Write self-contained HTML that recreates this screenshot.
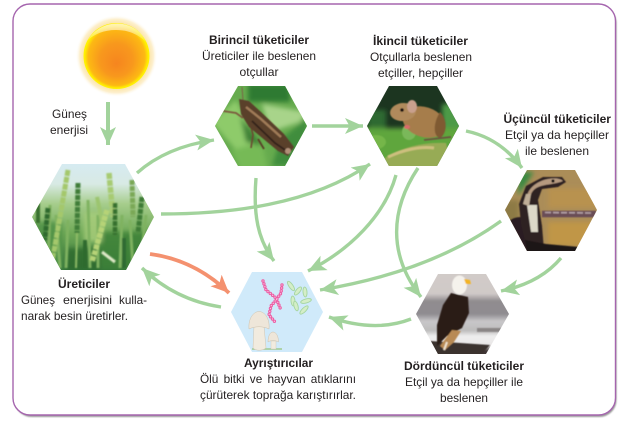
<!DOCTYPE html>
<html><head><meta charset="utf-8"><style>
html,body{margin:0;padding:0;background:#fff;width:623px;height:423px;overflow:hidden}
svg{display:block}
text{font-family:"Liberation Sans",sans-serif;font-size:12px;fill:#231f20}
.b{font-weight:bold}
.a{fill:none;stroke:#a2d39c;stroke-width:3.4;marker-end:url(#h)}
</style></head><body>
<svg width="623" height="423" viewBox="0 0 623 423" xmlns="http://www.w3.org/2000/svg">
<defs>
<marker id="h" markerUnits="userSpaceOnUse" markerWidth="20" markerHeight="18" refX="18" refY="8" orient="auto"><path d="M18 8L0 0L4.500 8L0 16Z" fill="#a2d39c"/></marker>
<marker id="o" markerUnits="userSpaceOnUse" markerWidth="20" markerHeight="18" refX="18" refY="8" orient="auto"><path d="M18 8L0 0L4.500 8L0 16Z" fill="#f4916f"/></marker>
<radialGradient id="sun" cx=".5" cy=".5" r=".5" fx=".5" fy=".62"><stop offset="0" stop-color="#f6851f"/><stop offset=".5" stop-color="#f8981d"/><stop offset=".86" stop-color="#fdb913"/><stop offset=".97" stop-color="#fff200"/><stop offset="1" stop-color="#fff200"/></radialGradient>
<radialGradient id="glow"><stop offset=".78" stop-color="#fce3a4"/><stop offset=".9" stop-color="#fdf0cf"/><stop offset="1" stop-color="#fff" stop-opacity="0"/></radialGradient>
<linearGradient id="hl" x1="0" y1="0" x2="0" y2="1"><stop offset="0" stop-color="#fff3c0" stop-opacity=".95"/><stop offset="1" stop-color="#fff" stop-opacity="0"/></linearGradient>
<linearGradient id="wh" x1="0" y1="0" x2="0" y2="1"><stop offset="0" stop-color="#d6ebf3"/><stop offset=".2" stop-color="#d8eae4"/><stop offset=".38" stop-color="#a6cd8c"/><stop offset=".65" stop-color="#6ea856"/><stop offset="1" stop-color="#2f7038"/></linearGradient>
<linearGradient id="eg" x1="0" y1="0" x2="0" y2="1"><stop offset="0" stop-color="#d2cbc8"/><stop offset=".28" stop-color="#cfc9c7"/><stop offset=".36" stop-color="#908c8f"/><stop offset=".5" stop-color="#8f8c90"/><stop offset=".58" stop-color="#c8c7c9"/><stop offset=".68" stop-color="#bdbcbc"/><stop offset=".74" stop-color="#eeeeee"/><stop offset=".84" stop-color="#e8e6e6"/><stop offset=".9" stop-color="#3c3432"/><stop offset="1" stop-color="#4a3f3a"/></linearGradient>
<clipPath id="c1"><polygon points="62,164 125,164 154,217 126,270 61,270 32,217"/></clipPath>
<clipPath id="c2"><polygon points="238,86 285,86 307,126 285,166 238,166 215,126"/></clipPath>
<clipPath id="c3"><polygon points="389,86 437,86 459,126 437,166 389,166 367,126"/></clipPath>
<clipPath id="c4"><polygon points="527,170 575,170 597,210 575,251 527,251 505,210"/></clipPath>
<clipPath id="c5"><polygon points="438,274 486,274 509,314 486,354 438,354 416,314"/></clipPath>
<filter id="b0" x="-30%" y="-30%" width="160%" height="160%"><feGaussianBlur stdDeviation="0.45"/></filter>
<filter id="b1" x="-30%" y="-30%" width="160%" height="160%"><feGaussianBlur stdDeviation="0.8"/></filter>
<filter id="b2" x="-30%" y="-30%" width="160%" height="160%"><feGaussianBlur stdDeviation="2.5"/></filter>
</defs>

<!-- frame -->
<rect x="14.5" y="6" width="602" height="411" rx="17" fill="#7f7f7f" opacity=".8" filter="url(#b1)"/>
<rect x="13" y="4" width="602.500" height="411" rx="17" fill="#fff" stroke="#a565ae" stroke-width="1.4"/>

<!-- sun -->
<circle cx="116.500" cy="56" r="41" fill="url(#glow)"/>
<circle cx="116.500" cy="56" r="33" fill="url(#sun)"/>
<path d="M87 41C94 29 106 23.500 117 23.500C130 23.500 142 31 147 43C137 33 127 30 116 30C104 30 94 34 87 41Z" fill="url(#hl)"/>

<!-- wheat -->
<g clip-path="url(#c1)">
<rect x="30" y="162" width="126" height="110" fill="url(#wh)"/>
<g filter="url(#b2)" opacity=".85"><rect x="34" y="222" width="28" height="50" fill="#4f9147"/><rect x="100" y="232" width="50" height="38" fill="#3d8039"/><rect x="66" y="248" width="34" height="22" fill="#2d6a2e"/><rect x="84" y="212" width="18" height="30" fill="#a6cc7a"/></g>
<g filter="url(#b1)" fill="none">
<path d="M50 205L48 268M56 215L60 268M68 220L66 268M88 200L90 268M98 215L98 268M122 215L120 268M130 220L133 268M146 215L142 250" stroke="#7fb260" stroke-width="3"/>
<path d="M68 170L60 217L52 262" stroke="#a4c86c" stroke-width="5" stroke-dasharray="6 1"/>
<path d="M78 183L77 233" stroke="#3f7d38" stroke-width="5" stroke-dasharray="5 1"/>
<path d="M77 233L76 268" stroke="#8fbc66" stroke-width="2"/>
<path d="M48 208L45 240" stroke="#2f6a2d" stroke-width="5" stroke-dasharray="5 1"/>
<path d="M38 203L38 223" stroke="#37702f" stroke-width="4"/>
<path d="M109 173L113 217" stroke="#a7cb72" stroke-width="5.500" stroke-dasharray="6 1"/>
<path d="M132 180L133 217" stroke="#7aa857" stroke-width="5" stroke-dasharray="5 1"/>
<path d="M142 197L138 233" stroke="#3c7a36" stroke-width="5" stroke-dasharray="5 1"/>
<path d="M115 203L115 235" stroke="#35702f" stroke-width="4.500" stroke-dasharray="5 1"/>
<path d="M97 197L102 222" stroke="#9cc56f" stroke-width="4"/>
<path d="M107 210L92 262" stroke="#b6d377" stroke-width="5.500" stroke-dasharray="5 1"/>
<path d="M124 238L124 268" stroke="#2f6a33" stroke-width="4"/>
<path d="M102 252L115 262" stroke="#dfe9c8" stroke-width="3"/>
<path d="M85 240L85 268" stroke="#2f6a2e" stroke-width="4"/>
</g>
</g>

<!-- grasshopper -->
<g clip-path="url(#c2)">
<rect x="213" y="84" width="96" height="84" fill="#66ab4e"/>
<g filter="url(#b2)">
<path d="M212 122L236 100L246 120L256 150L238 152Z" fill="#8ecb6a"/>
<path d="M262 104L306 112L300 122L270 132Z" fill="#a8d48a"/>
<path d="M232 150L262 142L268 170L240 170Z" fill="#76ba56"/>
<rect x="248" y="84" width="42" height="18" fill="#2f7a33"/>
<path d="M280 140L307 118V150L292 166H272Z" fill="#3f8d3c"/>
<path d="M240 116L262 146L246 142Z" fill="#2e6f2a" opacity=".8"/>
</g>
<g filter="url(#b0)">
<path d="M242 87L243 100" stroke="#7a6145" stroke-width="1" fill="none"/>
<path d="M223 111L236 113L243 118" stroke="#7c5a3c" stroke-width="1.800" fill="none"/>
<path d="M251 127L253 135L251 148" stroke="#6c4a30" stroke-width="1.600" fill="none"/>
<path d="M258 139L264 149" stroke="#5a3f28" stroke-width="1.800" fill="none"/>
<polygon points="239,99 249,101 261,112 284,134 294,147 288,156 278,151 249,127 241,114" fill="#5a3f29"/>
<path d="M246 107L261 119L281 137" stroke="#a07c58" stroke-width="2.400" fill="none"/>
<path d="M252 121L275 143L288 152" stroke="#33241a" stroke-width="1.800" fill="none"/>
<circle cx="288" cy="151" r="3" fill="#b09078"/>
</g>
</g>

<!-- mouse -->
<g clip-path="url(#c3)">
<rect x="365" y="84" width="96" height="84" fill="#1c3520"/>
<g filter="url(#b2)">
<rect x="442" y="104" width="20" height="36" fill="#4d9a47"/>
<rect x="365" y="128" width="96" height="40" fill="#5fa63e"/>
<rect x="368" y="110" width="18" height="18" fill="#2f6a30"/>
</g>
<g filter="url(#b0)">
<path d="M385 158C398 149 420 142 446 143L452 168H385Z" fill="#97ab55"/>
<path d="M388 157C403 150 420 146 434 148" stroke="#cdbf7e" stroke-width="3" fill="none"/>
<ellipse cx="376" cy="142" rx="10" ry="7" fill="#74b64a"/>
<ellipse cx="409" cy="132" rx="7" ry="8" fill="#7ab85a"/>
<ellipse cx="424" cy="122" rx="22" ry="15" transform="rotate(18 424 122)" fill="#a67d4c"/>
<path d="M440 112C448 120 447 134 440 138C434 137 432 125 440 112Z" fill="#7f5a33"/>
<ellipse cx="403" cy="112" rx="13" ry="9" transform="rotate(-6 403 112)" fill="#b08a5c"/>
<ellipse cx="412" cy="106.500" rx="5" ry="6.500" fill="#c9a08d"/>
<circle cx="402" cy="110" r="1.800" fill="#120c07"/>
<ellipse cx="407" cy="127" rx="3" ry="2" fill="#d86b6b"/>
<path d="M424 140L451 137" stroke="#6a5540" stroke-width="1.800"/>
</g>
</g>

<!-- snake -->
<g clip-path="url(#c4)">
<rect x="503" y="168" width="96" height="85" fill="#ab8d58"/>
<g filter="url(#b2)">
<rect x="548" y="188" width="50" height="20" fill="#b8924f"/>
<rect x="548" y="222" width="50" height="24" fill="#c09646"/>
<path d="M518 172H534L518 196Z" fill="#3a8a42"/>
<rect x="503" y="200" width="16" height="28" fill="#8d7a45"/>
</g>
<g filter="url(#b0)">
<path d="M542 214L596 214" stroke="#6b4d57" stroke-width="6.500" fill="none"/>
<path d="M545 212.500L592 213" stroke="#b3a0a6" stroke-width="1.600" fill="none" stroke-dasharray="6 2"/>
<path d="M505 224C513 217 519 216 524 218L530 252H518Z" fill="#2a1e22"/>
<polygon points="519,204 526,186 543,177 562,177 566,182 558,187 542,189 538,200 542,226 544,250 527,250 521,224" fill="#2e2122"/>
<path d="M527 196C529 187 538 181 548 179C554 178 560 178 563 181C556 184 548 184 541 186C534 188 531 192 530 198Z" fill="#b69a80"/>
<path d="M527 205L537 205L538 232L531 232Z" fill="#dcd8c8"/>
<path d="M523 204L526 194L531 194L529 206Z" fill="#bfae97"/>
<circle cx="553" cy="181" r="1.600" fill="#111"/>
<path d="M525 240L546 244L590 248L585 256H528Z" fill="#1d1517"/>
</g>
</g>

<!-- eagle -->
<g clip-path="url(#c5)">
<g filter="url(#b1)"><rect x="410" y="268" width="105" height="92" fill="url(#eg)"/></g>
<g filter="url(#b0)">
<path d="M430 341L490 345L480 356H435Z" fill="#3a302d"/>
<polygon points="451,293 468,297 469,313 462,328 447,336 437,346 437,325 443,305" fill="#2a1c16"/>
<ellipse cx="459.500" cy="285" rx="7.500" ry="9.500" fill="#f5f2ec"/>
<polygon points="464,279 470,280 471,284 466,284" fill="#f3b423"/>
<path d="M440 346L452 330L461 331L454 342L445 350Z" fill="#b88a54"/>
<path d="M447 342L444 350" stroke="#eee2cf" stroke-width="2"/>
<rect x="477" y="328" width="30" height="4" fill="#55504e" opacity=".5"/>
</g>
</g>

<!-- decomposers -->
<polygon points="252,272 302,272 323,312 302,352 252,352 231,312" fill="#d0eafa"/>
<g fill="#d4eec7" stroke="#a5d5a0" stroke-width=".9">
<ellipse cx="291" cy="286" rx="5.500" ry="2" transform="rotate(55 291 286)"/>
<ellipse cx="298" cy="291" rx="5" ry="2" transform="rotate(-50 298 291)"/>
<ellipse cx="305" cy="292" rx="5" ry="2" transform="rotate(85 305 292)"/>
<ellipse cx="293" cy="301" rx="5" ry="2" transform="rotate(85 293 301)"/>
<ellipse cx="296" cy="306" rx="5" ry="2" transform="rotate(75 296 306)"/>
<ellipse cx="306" cy="301" rx="5.500" ry="2" transform="rotate(-15 306 301)"/>
<ellipse cx="304" cy="310" rx="5.500" ry="2" transform="rotate(-45 304 310)"/>
</g>
<g fill="none" stroke-linecap="round">
<path d="M263 281L266 290L276 298L281 310" stroke="#ec5fa5" stroke-width="3.400" stroke-dasharray="0 3"/>
<path d="M282 285L281 293L276 300L271 306L269 315L275 322" stroke="#ec5fa5" stroke-width="3.400" stroke-dasharray="0 3"/>
<path d="M263 281L266 290L276 298L281 310" stroke="#f9c8e0" stroke-width="1.300" stroke-dasharray="0 3"/>
<path d="M282 285L281 293L276 300L271 306L269 315L275 322" stroke="#f9c8e0" stroke-width="1.300" stroke-dasharray="0 3"/>
</g>
<path d="M252 349H282" stroke="#9fc98e" stroke-width="1.500"/>
<path d="M254 326H264L266 348C262 351 256 351 253 348Z" fill="#f1ebdf" stroke="#cfc5b3" stroke-width=".5"/>
<path d="M249 329C248 318 254 311.500 259 311.500C265 311.500 270 319 269 329C263 326 255 326 249 329Z" fill="#eee6d9" stroke="#cdc2ae" stroke-width=".5"/>
<path d="M271 341H276L276 349H271Z" fill="#f1ebdf" stroke="#cfc5b3" stroke-width=".4"/>
<path d="M268 342C268 336 270 332 273 332C276 332 278.500 336 278.500 342C275 340 271 340 268 342Z" fill="#eee6d9" stroke="#cdc2ae" stroke-width=".5"/>

<!-- arrows -->
<path d="M108 102V145" class="a" style="stroke-width:4"/>
<path d="M137 173Q166 147 214 140" class="a"/>
<path d="M312 126H363" class="a"/>
<path d="M161 214C230 214 310 205 370 164" class="a"/>
<path d="M256 178C253 215 258 240 274 261" class="a"/>
<path d="M396 175C385 215 350 250 308 271" class="a"/>
<path d="M418 168C390 210 388 255 421 297" class="a"/>
<path d="M466 131Q500 138 522 168" class="a"/>
<path d="M501 221Q430 272 320 290" class="a"/>
<path d="M561 258Q540 283 501 291" class="a"/>
<path d="M411 319Q375 333 329 317" class="a"/>
<path d="M221 307Q175 300 142 268" class="a"/>
<path d="M150 254Q195 260 229 293" fill="none" stroke="#f4916f" stroke-width="3.800" marker-end="url(#o)"/>

<!-- labels -->
<text x="52" y="118" textLength="35" lengthAdjust="spacingAndGlyphs">Güneş</text>
<text x="50" y="134" textLength="38" lengthAdjust="spacingAndGlyphs">enerjisi</text>
<text class="b" x="209" y="44" textLength="100" lengthAdjust="spacingAndGlyphs">Birincil tüketiciler</text>
<text x="202" y="60" textLength="114" lengthAdjust="spacingAndGlyphs">Üreticiler ile beslenen</text>
<text x="239.500" y="76" textLength="39" lengthAdjust="spacingAndGlyphs">otçullar</text>
<text class="b" x="373" y="45" textLength="95" lengthAdjust="spacingAndGlyphs">İkincil tüketiciler</text>
<text x="370" y="61" textLength="102" lengthAdjust="spacingAndGlyphs">Otçullarla beslenen</text>
<text x="378" y="77" textLength="85" lengthAdjust="spacingAndGlyphs">etçiller, hepçiller</text>
<text class="b" x="503.500" y="123" textLength="107.500" lengthAdjust="spacingAndGlyphs">Üçüncül tüketiciler</text>
<text x="505" y="139" textLength="104" lengthAdjust="spacingAndGlyphs">Etçil ya da hepçiller</text>
<text x="525" y="155" textLength="64" lengthAdjust="spacingAndGlyphs">ile beslenen</text>
<text class="b" x="58" y="288" textLength="52" lengthAdjust="spacingAndGlyphs">Üreticiler</text>
<text x="21" y="304" textLength="34" lengthAdjust="spacingAndGlyphs">Güneş</text>
<text x="63" y="304" textLength="49" lengthAdjust="spacingAndGlyphs">enerjisini</text>
<text x="119" y="304" textLength="28" lengthAdjust="spacingAndGlyphs">kulla-</text>
<text x="21" y="320" textLength="107" lengthAdjust="spacingAndGlyphs">narak besin üretirler.</text>
<text class="b" x="244" y="367" textLength="69" lengthAdjust="spacingAndGlyphs">Ayrıştırıcılar</text>
<text x="200" y="383" textLength="156" lengthAdjust="spacingAndGlyphs" style="word-spacing:2px">Ölü bitki ve hayvan atıklarını</text>
<text x="200" y="399" textLength="156" lengthAdjust="spacingAndGlyphs">çürüterek toprağa karıştırırlar.</text>
<text class="b" x="404" y="370" textLength="120" lengthAdjust="spacingAndGlyphs">Dördüncül tüketiciler</text>
<text x="405" y="386" textLength="118" lengthAdjust="spacingAndGlyphs">Etçil ya da hepçiller ile</text>
<text x="440" y="402" textLength="48" lengthAdjust="spacingAndGlyphs">beslenen</text>
</svg>
</body></html>
